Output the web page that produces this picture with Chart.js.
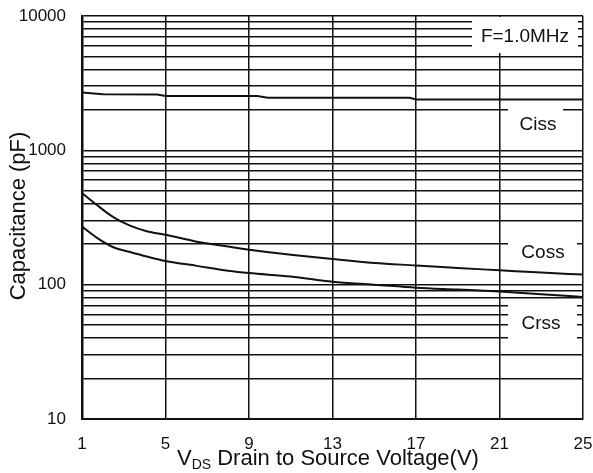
<!DOCTYPE html>
<html>
<head>
<meta charset="utf-8">
<title>Capacitance vs VDS</title>
<script src="https://cdn.jsdelivr.net/npm/chart.js@4.4.1/dist/chart.umd.min.js"></script>
<style>
    body { margin: 0; background: #fff; }
    #wrap { width: 593px; height: 473px; }
</style>
</head>
<body>
<div id="wrap"><canvas id="capChart" width="593" height="473"></canvas></div>
<script>
// drain-source voltage (V) for the output / reverse transfer curves
const vds = [1, 1.7, 2.5, 3.3, 4.1, 5, 6.5, 8, 9, 11, 13, 15, 17, 19, 21, 23, 25]
const coss = [481, 393, 318, 275, 250, 235, 209, 192, 182, 167, 155, 145, 139, 133, 128, 123, 119]
const crss = [271, 224, 190, 175, 162, 150, 138, 127, 122, 115, 105, 100, 95, 92, 89, 85, 81]

// input capacitance drops in small steps
const cissVds = [1, 2, 4.6, 5, 9.4, 9.9, 16.7, 17, 25]
const ciss = [2700, 2610, 2600, 2535, 2535, 2465, 2465, 2395, 2390]

const xTicks = [1, 5, 9, 13, 17, 21, 25]
const yTicks = [10, 20, 30, 40, 50, 60, 70, 80, 90,
    100, 200, 300, 400, 500, 600, 700, 800, 900,
    1000, 2000, 3000, 4000, 5000, 6000, 7000, 8000, 9000, 10000]
const yLabels = ["10", "100", "1000", "10000"]

const seriesNames = ["Ciss", "Coss", "Crss"]
const freqNote = "F=1.0MHz"

const FONT = "'Liberation Sans', Arial, sans-serif"

// white boxes that hold the curve names (pixel rects + text centre)
const noteBoxes = [
    { text: freqNote, x: 472, y: 17, w: 106, h: 36, tx: 525, ty: 37 },
    { text: seriesNames[0], x: 508, y: 104, w: 55, h: 43, tx: 538, ty: 125 },
    { text: seriesNames[1], x: 508, y: 232, w: 69, h: 32, tx: 543, ty: 253 },
    { text: seriesNames[2], x: 508, y: 302, w: 69, h: 43, tx: 541, ty: 324 },
]

const toPoints = (xs, ys) => xs.map((x, i) => ({ x: x, y: ys[i] }))

// keep tick labels from pushing the plot area inwards
const noOverhang = scale => {
    scale.paddingTop = 0
    scale.paddingBottom = 0
    scale.paddingLeft = 0
    scale.paddingRight = 0
}

const notesPlugin = {
    id: 'notes',
    beforeDatasetsDraw(chart) {
        const ctx = chart.ctx
        ctx.save()
        ctx.fillStyle = '#fff'
        noteBoxes.forEach(b => ctx.fillRect(b.x, b.y, b.w, b.h))
        ctx.restore()
    },
    afterDraw(chart) {
        const ctx = chart.ctx
        ctx.save()
        ctx.fillStyle = '#111'
        ctx.textAlign = 'center'
        ctx.textBaseline = 'middle'
        ctx.font = '19px ' + FONT
        noteBoxes.forEach(b => ctx.fillText(b.text, b.tx, b.ty))

        // y axis title
        ctx.save()
        ctx.translate(19, 216)
        ctx.rotate(-Math.PI / 2)
        ctx.font = '22px ' + FONT
        ctx.fillText('Capacitance (pF)', 0, 0)
        ctx.restore()

        // x axis title with subscript
        ctx.textAlign = 'left'
        ctx.textBaseline = 'alphabetic'
        let x = 177
        const base = 465
        ctx.font = '22px ' + FONT
        ctx.fillText('V', x, base)
        x += ctx.measureText('V').width
        ctx.font = '14px ' + FONT
        ctx.fillText('DS', x, base + 4)
        x += ctx.measureText('DS').width
        ctx.font = '22px ' + FONT
        ctx.fillText(' Drain to Source Voltage(V)', x, base)
        ctx.restore()
    }
}

const lineStyle = {
    borderColor: '#111',
    borderWidth: 2,
    pointRadius: 0,
    fill: false,
}

const ctx = document.querySelector('#capChart').getContext('2d')

new Chart(ctx, {
    type: 'line',
    data: {
        datasets: [
            { label: seriesNames[0], data: toPoints(cissVds, ciss), ...lineStyle, tension: 0 },
            { label: seriesNames[1], data: toPoints(vds, coss), ...lineStyle, cubicInterpolationMode: 'monotone' },
            { label: seriesNames[2], data: toPoints(vds, crss), ...lineStyle, cubicInterpolationMode: 'monotone' },
        ]
    },
    options: {
        responsive: false,
        animation: false,
        layout: { padding: { top: 16, right: 10, left: 0, bottom: 0 } },
        plugins: {
            legend: { display: false },
            tooltip: { enabled: false },
        },
        scales: {
            x: {
                type: 'linear',
                min: 1,
                max: 25,
                afterBuildTicks: scale => { scale.ticks = xTicks.map(v => ({ value: v })) },
                afterFit: scale => { scale.height = 54; noOverhang(scale) },
                grid: { color: '#111', lineWidth: 1.5, drawTicks: false },
                border: { color: '#111', width: 2 },
                ticks: {
                    padding: 15,
                    color: '#111',
                    font: { family: FONT, size: 17 },
                    maxRotation: 0,
                    autoSkip: false,
                    callback: v => String(v),
                },
            },
            y: {
                type: 'logarithmic',
                min: 10,
                max: 10000,
                afterBuildTicks: scale => { scale.ticks = yTicks.map(v => ({ value: v })) },
                afterFit: scale => { scale.width = 82; noOverhang(scale) },
                grid: { color: '#111', lineWidth: 1.5, drawTicks: false },
                border: { color: '#111', width: 2.5 },
                ticks: {
                    padding: 16,
                    color: '#111',
                    font: { family: FONT, size: 17 },
                    autoSkip: false,
                    callback: v => yLabels.includes(String(v)) ? String(v) : '',
                },
            },
        },
    },
    plugins: [notesPlugin],
})
</script>
</body>
</html>
